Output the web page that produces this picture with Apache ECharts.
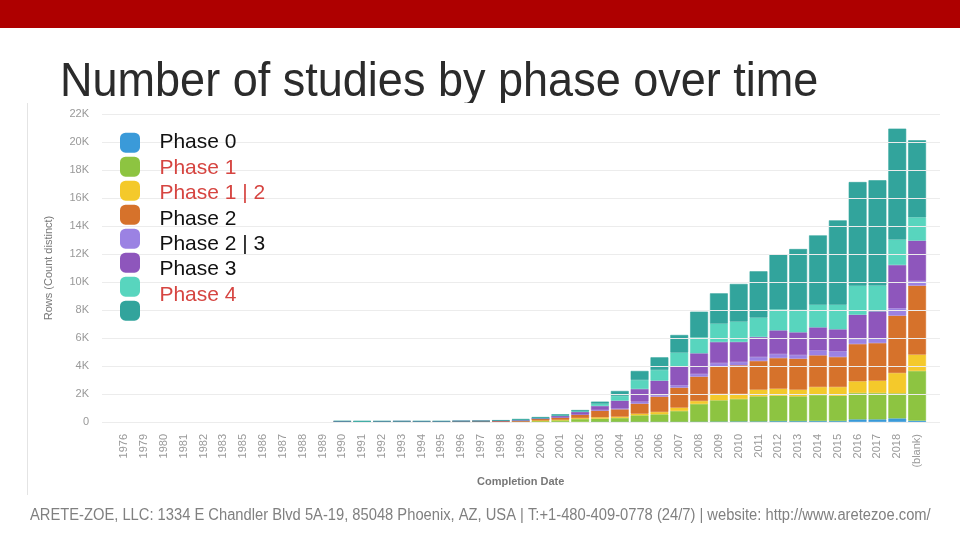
<!DOCTYPE html>
<html>
<head>
<meta charset="utf-8">
<script src="https://cdn.jsdelivr.net/npm/echarts@6.0.0/dist/echarts.min.js"></script>
<style>
  html, body { margin: 0; padding: 0; background: #fff; }
  #chart { width: 960px; height: 540px; }
</style>
</head>
<body>
<div id="chart"></div>
<script>
// categories (completion year)
var years = ['1976', '1979', '1980', '1981', '1982', '1983', '1985', '1986', '1987', '1988', '1989',
  '1990', '1991', '1992', '1993', '1994', '1995', '1996', '1997', '1998', '1999',
  '2000', '2001', '2002', '2003', '2004', '2005', '2006', '2007', '2008', '2009',
  '2010', '2011', '2012', '2013', '2014', '2015', '2016', '2017', '2018', '(blank)'];

// series names, bottom to top of the stack
var phaseNames = ['Phase 0', 'Phase 1', 'Phase 1 | 2', 'Phase 2', 'Phase 2 | 3', 'Phase 3', 'Phase 4', 'N/A'];
var phaseColors = ['#3a9ad9', '#8dc441', '#f4c92b', '#d6722b', '#9b82e3', '#8e56bc', '#58d5be', '#32a49c'];

// legend text as written on the slide (7 labels)
var legendLabels = ['Phase 0', 'Phase 1', 'Phase 1 | 2', 'Phase 2', 'Phase 2 | 3', 'Phase 3', 'Phase 4'];
var legendLabelColors = ['#111111', '#d64541', '#d64541', '#111111', '#111111', '#111111', '#d64541'];

// values (count of studies); the early years are too small to see
var phase0 = [0, 0, 0, 0, 0, 0, 0, 0, 0, 0, 0,
  0, 0, 0, 0, 0, 0, 0, 0, 0, 0,
  0, 0, 0, 5, 5, 5, 10, 10, 20, 30,
  40, 40, 60, 60, 70, 70, 190, 190, 260, 95];
var phase1 = [0, 0, 0, 0, 0, 0, 0, 0, 0, 0, 0,
  0, 0, 0, 0, 0, 0, 10, 10, 10, 20,
  70, 120, 210, 235, 280, 470, 540, 775, 1265, 1520,
  1600, 1795, 1820, 1775, 1860, 1810, 1880, 1880, 1790, 3550];
var phase12 = [0, 0, 0, 0, 0, 0, 0, 0, 0, 0, 0,
  0, 0, 0, 0, 0, 0, 0, 10, 0, 10,
  40, 45, 70, 95, 95, 120, 165, 240, 215, 450,
  360, 475, 500, 475, 570, 620, 835, 880, 1450, 1165];
var phase2 = [0, 0, 0, 0, 0, 0, 0, 0, 0, 0, 0,
  20, 10, 10, 40, 15, 20, 40, 40, 50, 60,
  130, 165, 255, 475, 525, 715, 1095, 1430, 1740, 1975,
  2050, 2050, 2190, 2215, 2260, 2145, 2665, 2690, 4095, 4930];
var phase23 = [0, 0, 0, 0, 0, 0, 0, 0, 0, 0, 0,
  0, 0, 0, 0, 0, 0, 0, 0, 0, 5,
  5, 10, 15, 50, 70, 145, 120, 165, 190, 240,
  240, 285, 285, 260, 355, 405, 355, 335, 525, 335];
var phase3 = [0, 0, 0, 0, 0, 0, 0, 0, 0, 0, 0,
  30, 10, 40, 10, 35, 30, 15, 10, 40, 50,
  30, 105, 175, 285, 550, 905, 1025, 1335, 1475, 1500,
  1430, 1430, 1690, 1620, 1645, 1570, 1740, 1930, 3095, 2880];
var phase4 = [0, 0, 0, 0, 0, 0, 0, 0, 0, 0, 0,
  0, 20, 0, 0, 0, 0, 0, 0, 0, 20,
  20, 25, 40, 165, 335, 640, 760, 1000, 1145, 1310,
  1450, 1380, 1500, 1595, 1620, 1760, 2070, 1835, 1810, 1665];
var phaseNA = [0, 0, 0, 0, 0, 0, 0, 0, 0, 0, 0,
  20, 30, 10, 10, 10, 10, 5, 5, 20, 45,
  60, 80, 90, 145, 355, 645, 905, 1260, 1830, 2165,
  2690, 3310, 3930, 4355, 4950, 6025, 7405, 7525, 7930, 5500];

var seriesValues = [phase0, phase1, phase12, phase2, phase23, phase3, phase4, phaseNA];

var titleText = 'Number of studies by phase over time';
var footerText = 'ARETE-ZOE, LLC: 1334 E Chandler Blvd 5A-19, 85048 Phoenix, AZ, USA | T:+1-480-409-0778 (24/7) | website: http://www.aretezoe.com/';

var chart = echarts.init(document.getElementById('chart'), null, { renderer: 'canvas' });

var series = phaseNames.map(function (name, i) {
  return {
    name: name,
    type: 'bar',
    stack: 'total',
    xAxisIndex: 0,
    yAxisIndex: 0,
    barCategoryGap: '10%',
    // thin same-colour border hides the anti-aliasing seams between stacked pieces
    itemStyle: { color: phaseColors[i], borderColor: phaseColors[i], borderWidth: 0.6 },
    // empty pieces are left out so their border is not drawn
    data: seriesValues[i].map(function (v) { return v === 0 ? null : v; })
  };
});

var option = {
  animation: false,
  backgroundColor: '#ffffff',
  textStyle: { fontFamily: 'Liberation Sans, Arial, sans-serif' },
  color: phaseColors,
  grid: [
    // bars
    { left: 114.4, right: 33, top: 114, bottom: 118 },
    // wider frame for ticks and grid lines
    { left: 102, right: 20, top: 114, bottom: 118 }
  ],
  xAxis: [{
    type: 'category',
    gridIndex: 0,
    data: years,
    axisLine: { show: false },
    axisTick: { show: false },
    axisLabel: { rotate: 90, interval: 0, color: '#999999', fontSize: 11, margin: 12 },
    name: 'Completion Date',
    nameLocation: 'middle',
    nameGap: 54,
    nameTextStyle: { color: '#777777', fontSize: 11, fontWeight: 'bold' },
    z: 3
  }, {
    type: 'value',
    gridIndex: 1,
    min: 0,
    max: 1,
    show: false
  }],
  yAxis: [{
    type: 'value',
    gridIndex: 0,
    min: 0,
    max: 22000,
    interval: 2000,
    show: false
  }, {
    type: 'value',
    gridIndex: 1,
    min: 0,
    max: 22000,
    interval: 2000,
    axisLine: { show: false },
    axisTick: { show: false },
    splitLine: { lineStyle: { color: '#ececec', width: 1 } },
    axisLabel: {
      color: '#999999',
      fontSize: 11,
      margin: 13,
      formatter: function (v) { return v === 0 ? '0' : (v / 1000) + 'K'; }
    },
    name: 'Rows (Count distinct)',
    nameLocation: 'middle',
    nameGap: 48,
    nameTextStyle: { color: '#777777', fontSize: 11 },
    z: 3
  }],
  legend: [{
    // colour chips only
    orient: 'vertical',
    left: 115,
    top: 127.7,
    itemWidth: 18,
    itemHeight: 18,
    itemGap: 4,
    icon: 'roundRect',
    formatter: function () { return ''; },
    data: phaseNames,
    selectedMode: false
  }, {
    // labels typed on the slide
    orient: 'vertical',
    left: 148.4,
    top: 125,
    itemWidth: 0,
    itemHeight: 0,
    itemGap: 0,
    icon: 'rect',
    selectedMode: false,
    textStyle: { fontSize: 21, lineHeight: 25.4, fontFamily: 'Liberation Sans, Arial, sans-serif' },
    data: legendLabels.map(function (l, i) {
      return { name: l, textStyle: { color: legendLabelColors[i] } };
    })
  }],
  graphic: [
    { type: 'rect', z: 0, shape: { x: 0, y: 0, width: 960, height: 28 }, style: { fill: '#ae0000' } },
    {
      type: 'text', z: 0, x: 60, y: 82, scaleX: 0.919,
      style: {
        text: titleText, fill: '#2b2b2b',
        font: '49px "Liberation Sans", Arial, sans-serif',
        verticalAlign: 'middle'
      }
    },
    // chart picture pasted over the lower part of the title
    { type: 'rect', z: 1, shape: { x: 27, y: 103, width: 933, height: 392 }, style: { fill: '#ffffff' } },
    { type: 'line', z: 1, shape: { x1: 27.5, y1: 103, x2: 27.5, y2: 495 }, style: { stroke: '#e4e4e4', lineWidth: 1 } },
    {
      type: 'text', z: 0, x: 30, y: 516, scaleX: 0.92,
      style: {
        text: footerText, fill: '#808080',
        font: '16px "Liberation Sans", Arial, sans-serif',
        verticalAlign: 'middle'
      }
    }
  ],
  series: series
};

chart.setOption(option);
</script>
</body>
</html>
